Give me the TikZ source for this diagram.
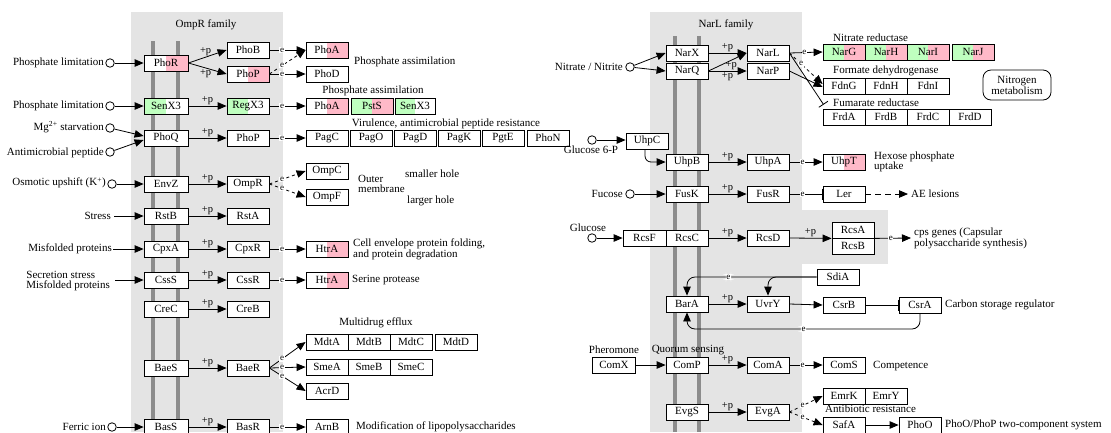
\documentclass[tikz,border=0pt]{standalone}
\usepackage{fontspec}
\setmainfont{Liberation Serif}
\usetikzlibrary{arrows.meta,calc}
\definecolor{panel}{HTML}{E4E4E4}
\definecolor{memb}{HTML}{8C8C8C}
\definecolor{pk}{HTML}{FFB9C8}
\definecolor{gr}{HTML}{BFFFBF}
\begin{document}
\begin{tikzpicture}[x=1pt,y=-1pt,
  every node/.style={font=\fontsize{11}{10}\selectfont},
  gene/.style={draw, line width=0.8pt, fill=white, minimum width=42pt, minimum height=16pt, inner sep=0pt},
  pinkR/.style={path picture={\fill[pk] (path picture bounding box.south) rectangle (path picture bounding box.north east);}},
  greenL/.style={path picture={\fill[gr] (path picture bounding box.south west) rectangle (path picture bounding box.north);}},
  gpk/.style={path picture={\fill[gr] (path picture bounding box.south west) rectangle (path picture bounding box.north);\fill[pk] (path picture bounding box.south) rectangle (path picture bounding box.north east);}},
  circ/.style={circle, draw, line width=0.8pt, fill=white, minimum size=8.5pt, inner sep=0pt},
  arr/.style={-{Triangle[length=9pt,width=7.5pt]}, line width=0.8pt},
  inh/.style={-{Bar[width=11pt]}, line width=0.8pt},
  elab/.style={font=\fontsize{9}{9}\selectfont, fill=white, inner sep=0.6pt},
  plab/.style={font=\fontsize{10.5}{10.5}\selectfont, inner sep=1pt},
  lbl/.style={inner sep=0pt, align=left},
  bar/.style={memb, line width=3.2pt}
]
\useasboundingbox (0,0) rectangle (1111,432);
\fill[white] (0,0) rectangle (1111,432);
% panels
\fill[panel] (131,12) rectangle (283,432);
\fill[panel] (650,12) rectangle (802,432);
\fill[panel] (802,210) rectangle (888,264);
\node[lbl] (ompfam) at (206,25) {OmpR family};
\node[lbl] (narfam) at (726,25) {NarL family};
% membrane bars
\draw[bar] (153,41) -- (153,432);
\draw[bar] (178,41) -- (178,432);
\draw[bar] (675,36) -- (675,432);
\draw[bar] (699,36) -- (699,432);

% ---------------- left sensors
\node[gene, minimum width=44pt, pinkR] (phor) at (166,63) {PhoR};
\node[gene, minimum width=44pt, greenL] (senx) at (166,106) {SenX3};
\node[gene, minimum width=44pt] (phoq) at (166,138) {PhoQ};
\node[gene, minimum width=44pt] (envz) at (166,184) {EnvZ};
\node[gene, minimum width=44pt] (rstb) at (166,216) {RstB};
\node[gene, minimum width=44pt] (cpxa) at (166,249) {CpxA};
\node[gene, minimum width=44pt] (csss) at (166,280) {CssS};
\node[gene, minimum width=44pt] (crec) at (166,309) {CreC};
\node[gene, minimum width=44pt] (baes) at (166,368) {BaeS};
\node[gene, minimum width=44pt] (bass) at (166,427) {BasS};
% left regulators
\node[gene] (phob) at (248,50) {PhoB};
\node[gene, pinkR] (phop1) at (248,74) {PhoP};
\node[gene, greenL] (regx) at (248,106) {RegX3};
\node[gene] (phop2) at (248,138) {PhoP};
\node[gene] (ompr) at (248,184) {OmpR};
\node[gene] (rsta) at (248,216) {RstA};
\node[gene] (cpxr) at (248,249) {CpxR};
\node[gene] (cssr) at (248,280) {CssR};
\node[gene] (creb) at (248,309) {CreB};
\node[gene] (baer) at (248,368) {BaeR};
\node[gene] (basr) at (248,427) {BasR};
% inputs
\node[circ] (c1) at (110,63) {};
\node[lbl, anchor=east] (t1) at (104,63) {Phosphate limitation};
\node[circ] (c2) at (110,106) {};
\node[lbl, anchor=east] (t2) at (104,106) {Phosphate limitation};
\node[circ] (c3) at (110,128) {};
\node[lbl, anchor=east] (t3) at (104,127) {Mg\textsuperscript{2+} starvation};
\node[circ] (c4) at (110,152) {};
\node[lbl, anchor=east] (t4) at (104,153) {Antimicrobial peptide};
\node[circ] (c5) at (112,184) {};
\node[lbl, anchor=east] (t5) at (106,183) {Osmotic upshift (K\textsuperscript{+})};
\node[lbl, anchor=east] (t6) at (111,216) {Stress};
\node[lbl, anchor=east] (t7) at (112,249) {Misfolded proteins};
\node[lbl, anchor=east] (t8) at (110,281) {Secretion stress\\Misfolded proteins};
\node[circ] (c9) at (112,427) {};
\node[lbl, anchor=east] (t9) at (106,427) {Ferric ion};
\draw[arr] (c1) -- (phor.west);
\draw[arr] (c2) -- (senx.west);
\draw[arr] (c3) -- ($(phoq.west)+(0,-2)$);
\draw[arr] (c4) -- ($(phoq.west)+(0,2)$);
\draw[arr] (c5) -- (envz.west);
\draw[arr] ($(t6.east)+(3,0)$) -- (rstb.west);
\draw[arr] ($(t7.east)+(1,0)$) -- (cpxa.west);
\draw[arr] (115,280) -- (csss.west);
\draw[arr] (c9) -- (bass.west);
% phosphorylation
\draw[arr] (phor.east) -- node[plab, above, pos=0.45]{+p} (phob.west);
\draw[arr] (phor.east) -- node[plab, below, pos=0.45]{+p} (phop1.west);
\draw[arr] (senx.east) -- node[plab, above]{+p} (regx.west);
\draw[arr] (phoq.east) -- node[plab, above]{+p} (phop2.west);
\draw[arr] (envz.east) -- node[plab, above]{+p} (ompr.west);
\draw[arr] (rstb.east) -- node[plab, above]{+p} (rsta.west);
\draw[arr] (cpxa.east) -- node[plab, above]{+p} (cpxr.west);
\draw[arr] (csss.east) -- node[plab, above]{+p} (cssr.west);
\draw[arr] (crec.east) -- node[plab, above]{+p} (creb.west);
\draw[arr] (baes.east) -- node[plab, above]{+p} (baer.west);
\draw[arr] (bass.east) -- node[plab, above]{+p} (basr.west);
% targets left
\node[gene, pinkR] (phoa1) at (327,50) {PhoA};
\node[gene] (phod) at (327,74) {PhoD};
\node[lbl, anchor=west] (pa1) at (354,62) {Phosphate assimilation};
\node[gene, pinkR] (phoa2) at (327,106) {PhoA};
\node[gene, gpk] (psts) at (372,106) {PstS};
\node[gene, greenL, minimum width=40pt] (senxb) at (415,106) {SenX3};
\node[lbl] (pa2) at (373,91) {Phosphate assimilation};
\node[gene] (pagc) at (327,138) {PagC};
\node[gene] (pago) at (371,138) {PagO};
\node[gene] (pagd) at (415,138) {PagD};
\node[gene] (pagk) at (459,138) {PagK};
\node[gene] (pgte) at (503,138) {PgtE};
\node[gene] (phon) at (548,138) {PhoN};
\node[lbl] (vir) at (446,124) {Virulence, antimicrobial peptide resistance};
\node[gene] (ompc) at (327,171) {OmpC};
\node[gene] (ompf) at (327,197) {OmpF};
\node[lbl, anchor=west] (outer) at (358,184) {Outer\\membrane};
\node[lbl, anchor=west] (small) at (405,174) {smaller hole};
\node[lbl, anchor=west] (large) at (407,201) {larger hole};
\node[gene, pinkR] (htra1) at (327,249) {HtrA};
\node[lbl, anchor=west] (cell) at (353,249) {Cell envelope protein folding,\\and protein degradation};
\node[gene, pinkR] (htra2) at (327,280) {HtrA};
\node[lbl, anchor=west] (ser) at (352,280) {Serine protease};
\node[lbl] (mde) at (376,323) {Multidrug efflux};
\node[gene] (mdta) at (327,342) {MdtA};
\node[gene] (mdtb) at (369,342) {MdtB};
\node[gene] (mdtc) at (411,342) {MdtC};
\node[gene] (mdtd) at (456,342) {MdtD};
\node[gene] (smea) at (327,367) {SmeA};
\node[gene] (smeb) at (369,367) {SmeB};
\node[gene] (smec) at (411,367) {SmeC};
\node[gene] (acrd) at (327,391) {AcrD};
\node[gene] (arnb) at (327,427) {ArnB};
\node[lbl, anchor=west] (lps) at (356,427) {Modification of lipopolysaccharides};
% expression edges left
\draw[arr] (phob.east) -- node[elab, pos=0.35]{e} (phoa1.west);
\draw[arr, dashed] (phop1.east) -- node[elab, pos=0.35]{e} (phoa1.west);
\draw[arr] (phop1.east) -- node[elab, pos=0.35]{e} (phod.west);
\draw[arr] (regx.east) -- node[elab, pos=0.35]{e} (phoa2.west);
\draw[arr] (phop2.east) -- node[elab, pos=0.35]{e} (pagc.west);
\draw[arr, dashed] (ompr.east) -- node[elab, pos=0.35]{e} (ompc.west);
\draw[arr, dashed] (ompr.east) -- node[elab, pos=0.35]{e} (ompf.west);
\draw[arr] (cpxr.east) -- node[elab, pos=0.35]{e} (htra1.west);
\draw[arr] (cssr.east) -- node[elab, pos=0.35]{e} (htra2.west);
\draw[arr] (baer.east) -- node[elab, pos=0.35]{e} (mdta.west);
\draw[arr] (baer.east) -- node[elab, pos=0.35]{e} (smea.west);
\draw[arr] (baer.east) -- node[elab, pos=0.35]{e} (acrd.west);
\draw[arr] (basr.east) -- node[elab, pos=0.35]{e} (arnb.west);

% ---------------- right
\node[gene] (narx) at (687,53) {NarX};
\node[gene] (narq) at (687,71) {NarQ};
\node[gene] (narl) at (768,53) {NarL};
\node[gene] (narp) at (768,71) {NarP};
\node[circ] (cn) at (630,67) {};
\node[lbl, anchor=east] (tn) at (623,67) {Nitrate / Nitrite};
\draw[arr] (cn) -- (narx.west);
\draw[arr] (cn) -- (narq.west);
\draw[arr] (narx.east) -- node[plab, above]{+p} (narl.west);
\draw[arr] (narq.east) -- node[plab, pos=0.6, anchor=north, inner sep=0.5pt]{+p} (narl.west);
\draw[arr] (narq.east) -- node[plab, below]{+p} (narp.west);
\node[lbl, anchor=west] (nrt) at (833,38) {Nitrate reductase};
\node[gene, gpk] (narg) at (844,52) {NarG};
\node[gene, gpk] (narh) at (886,52) {NarH};
\node[gene, gpk] (nari) at (928,52) {NarI};
\node[gene, gpk] (narj) at (973,52) {NarJ};
\node[lbl, anchor=west] (fdt) at (833,71) {Formate dehydrogenase};
\node[gene] (fdng) at (844,86) {FdnG};
\node[gene] (fdnh) at (886,86) {FdnH};
\node[gene] (fdni) at (928,86) {FdnI};
\node[lbl, anchor=west] (frt) at (833,103) {Fumarate reductase};
\node[gene] (frda) at (844,117) {FrdA};
\node[gene] (frdb) at (886,117) {FrdB};
\node[gene] (frdc) at (928,117) {FrdC};
\node[gene] (frdd) at (970,117) {FrdD};
\node[draw, line width=0.8pt, rounded corners=8pt, minimum width=68pt, minimum height=30pt, align=center, inner sep=0pt, font=\fontsize{11}{9.5}\selectfont] (nitro) at (1017,85) {Nitrogen\\metabolism};
\draw[arr] (narl.east) -- node[elab, pos=0.45]{e} (narg.west);
\draw[arr, dashed] (narl.east) -- node[elab, pos=0.35]{e} ($(fdng.west)+(0,-2)$);
\draw[inh] (narl.east) -- ($(frda.north west)+(1,-4)$);
\draw[arr] (narp.east) -- ($(fdng.west)+(0,1)$);

\node[gene] (uhpc) at (647,141) {UhpC};
\node[circ] (cu) at (592,140) {};
\node[lbl] (tu) at (591,150) {Glucose 6-P};
\draw[arr] (cu) -- ($(uhpc.west)+(0,-1)$);
\node[gene] (uhpb) at (687,162) {UhpB};
\node[gene] (uhpa) at (768,162) {UhpA};
\node[gene, pinkR] (uhpt) at (844,162) {UhpT};
\node[lbl, anchor=west] (hex) at (874,162) {Hexose phosphate\\uptake};
\draw[arr, rounded corners=6pt] ($(uhpc.south)+(-2,0)$) |- (uhpb.west);
\draw[arr] (uhpb.east) -- node[plab, above]{+p} (uhpa.west);
\draw[arr] (uhpa.east) -- node[elab, pos=0.4]{e} (uhpt.west);

\node[gene] (fusk) at (687,194) {FusK};
\node[gene] (fusr) at (768,194) {FusR};
\node[gene] (ler) at (844,194) {Ler};
\node[circ] (cf) at (630,194) {};
\node[lbl, anchor=east] (tf) at (623,194) {Fucose};
\node[lbl, anchor=west] (ae) at (911,194) {AE lesions};
\draw[arr] (cf) -- (fusk.west);
\draw[arr] (fusk.east) -- node[plab, above]{+p} (fusr.west);
\draw[inh] (fusr.east) -- node[elab, pos=0.4]{e} (ler.west);
\draw[arr, dash pattern=on 6pt off 4pt] (ler.east) -- ($(ae.west)+(-3,0)$);

\node[gene, minimum width=43pt] (rcsf) at (644.5,238) {RcsF};
\node[gene] (rcsc) at (687,238) {RcsC};
\node[gene] (rcsd) at (768,238) {RcsD};
\node[gene] (rcsa) at (853,230) {RcsA};
\node[gene] (rcsb) at (853,246) {RcsB};
\node[circ] (cg) at (592,238) {};
\node[lbl] (tg) at (588,228) {Glucose};
\node[lbl, anchor=west] (cps) at (914,238) {cps genes (Capsular\\polysaccharide synthesis)};
\draw[arr] (cg) -- (rcsf.west);
\draw[arr] (rcsc.east) -- node[plab, above]{+p} (rcsd.west);
\draw[arr] (rcsd.east) -- node[plab, above]{+p} (rcsa.south west);
\draw[arr] (rcsa.south east) -- node[elab, pos=0.45]{e} ($(cps.west)+(-3,0)$);

\node[gene] (sdia) at (838,277) {SdiA};
\node[gene] (bara) at (687,304) {BarA};
\node[gene] (uvry) at (768,304) {UvrY};
\node[gene] (csrb) at (844,305) {CsrB};
\node[gene] (csra) at (920,305) {CsrA};
\node[lbl, anchor=west] (csl) at (945,305) {Carbon storage regulator};
\draw[arr, rounded corners=8pt] (sdia.west) -| node[elab, pos=0.34]{e} (bara.north);
\draw[arr, rounded corners=8pt] (sdia.west) -| (uvry.north);
\draw[arr] (bara.east) -- node[plab, above]{+p} (uvry.west);
\draw[arr] (uvry.east) -- (csrb.west);
\draw[inh] (csrb.east) -- (csra.west);
\draw[arr, rounded corners=8pt] (csra.south) -- (920,329) -- node[elab]{e} (687,329) -- (bara.south);

\node[gene, minimum width=43pt] (comx) at (614,365) {ComX};
\node[lbl] (pher) at (614,350) {Pheromone};
\node[gene] (comp) at (687,365) {ComP};
\node[lbl] (qs) at (688,350) {Quorum sensing};
\node[gene] (coma) at (768,365) {ComA};
\node[gene] (coms) at (844,365) {ComS};
\node[lbl, anchor=west] (comp2) at (873,366) {Competence};
\draw[arr] (comx.east) -- (comp.west);
\draw[arr] (comp.east) -- node[plab, above]{+p} (coma.west);
\draw[arr] (coma.east) -- node[elab, pos=0.4]{e} (coms.west);

\node[gene] (evgs) at (687,412) {EvgS};
\node[gene] (evga) at (768,412) {EvgA};
\node[gene] (emrk) at (844,396) {EmrK};
\node[gene] (emry) at (886,396) {EmrY};
\node[lbl, anchor=west] (abr) at (825,409) {Antibiotic resistance};
\node[gene] (safa) at (844,425) {SafA};
\node[gene] (phoo) at (920,425) {PhoO};
\node[lbl, anchor=west] (ptc) at (945,425) {PhoO/PhoP two-component system};
\draw[arr] (evgs.east) -- node[plab, above]{+p} (evga.west);
\draw[arr, dashed] (evga.east) -- node[elab, pos=0.4]{e} (emrk.west);
\draw[arr, dashed] (evga.east) -- node[elab, pos=0.4]{e} (safa.west);
\draw[arr] (safa.east) -- (phoo.west);
\end{tikzpicture}
\end{document}
